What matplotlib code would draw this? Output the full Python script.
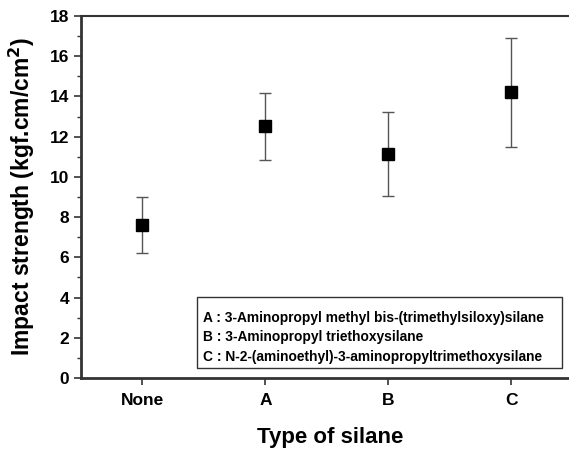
import matplotlib
matplotlib.use("Agg")
import matplotlib.pyplot as plt
from matplotlib.patches import Rectangle
from matplotlib.ticker import MultipleLocator

plt.rcParams['font.family'] = ['Liberation Sans', 'DejaVu Sans']

categories = ["None", "A", "B", "C"]
values = [7.6, 12.54, 11.14, 14.21]
err_low = [6.2, 10.85, 9.04, 11.49]
err_high = [9.02, 14.19, 13.23, 16.93]
legend_lines = [
    "A : 3-Aminopropyl methyl bis-(trimethylsiloxy)silane",
    "B : 3-Aminopropyl triethoxysilane",
    "C : N-2-(aminoethyl)-3-aminopropyltrimethoxysilane",
]

W, H = 569, 451
fig = plt.figure(figsize=(W / 100, H / 100), dpi=100)
ax = fig.add_axes([81 / W, 1 - 378 / H, (W - 81) / W, (378 - 16) / H])

x = list(range(len(categories)))
lower = [v - l for v, l in zip(values, err_low)]
upper = [h - v for v, h in zip(values, err_high)]
ax.errorbar(x, values, yerr=[lower, upper], fmt='none', ecolor='#555555',
            elinewidth=1.0, capsize=4, capthick=1.0, zorder=2)
ax.plot(x, values, 's', color='black', markersize=8, zorder=3)

ax.set_xlim(-0.5, 3.47)
ax.set_ylim(0, 18)
ax.set_xticks(x)
ax.set_xticklabels(categories)
ax.yaxis.set_major_locator(MultipleLocator(2))
ax.yaxis.set_minor_locator(MultipleLocator(1))

ax.spines['right'].set_visible(False)
for s in ['left', 'bottom', 'top']:
    ax.spines[s].set_color('#333333')
ax.spines['left'].set_linewidth(2.0)
ax.spines['bottom'].set_linewidth(2.0)
ax.spines['top'].set_linewidth(1.5)

ax.tick_params(axis='both', which='major', direction='out', length=5, width=1.2,
               colors='#333333', labelcolor='black', labelsize=12.5)
ax.tick_params(axis='y', which='minor', direction='out', length=3, width=1.0, colors='#333333')
ax.tick_params(axis='x', which='major', pad=6)
for lab in ax.get_xticklabels() + ax.get_yticklabels():
    lab.set_fontweight('bold')

fig.text(330 / W, 1 - 438 / H, "Type of silane", fontsize=16, fontweight='bold',
         ha='center', va='center')
fig.text(22 / W, 1 - 196 / H, "Impact strength (kgf.cm/cm$^\\mathbf{2}$)", fontsize=16.5,
         fontweight='bold', rotation=90, ha='center', va='center')

# legend box
rect = Rectangle((197 / W, 1 - 368 / H), (562 - 197) / W, (368 - 297) / H,
                 transform=fig.transFigure, facecolor='white', edgecolor='#333333',
                 linewidth=1.0, zorder=5)
fig.add_artist(rect)
ys = [318, 337.5, 357]
for t, yy in zip(legend_lines, ys):
    fig.text(203 / W, 1 - yy / H, t, fontsize=9.9, fontweight='bold', ha='left',
             va='center', zorder=6)

fig.savefig("out.png", dpi=100)
